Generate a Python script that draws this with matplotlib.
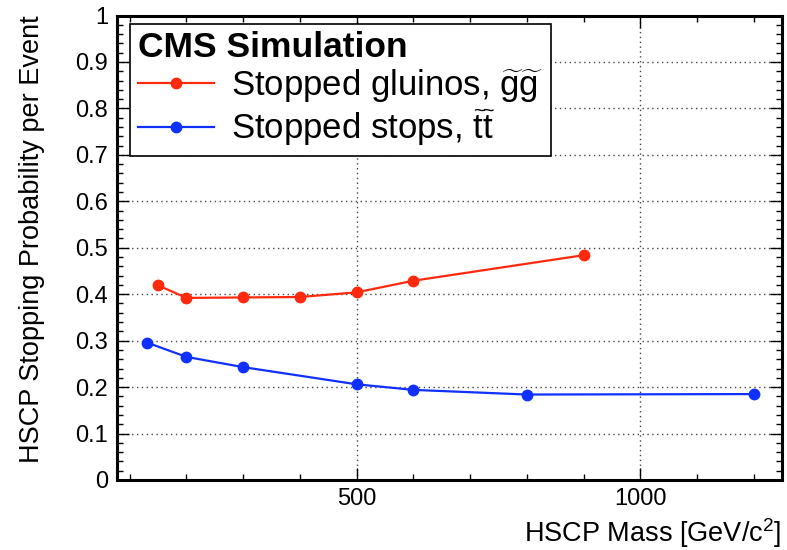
import numpy as np
import matplotlib
matplotlib.use("Agg")
import matplotlib.pyplot as plt
from matplotlib.ticker import MultipleLocator

plt.rcParams['font.family'] = ['Liberation Sans', 'DejaVu Sans']
plt.rcParams['mathtext.fontset'] = 'custom'
plt.rcParams['mathtext.rm'] = 'Liberation Sans'
plt.rcParams['mathtext.it'] = 'Liberation Sans'

# HSCP mass in GeV/c^2
gluino_mass = [150, 200, 300, 400, 500, 600, 900]
gluino_prob = [0.419, 0.392, 0.393, 0.394, 0.404, 0.429, 0.484]

stop_mass = [130, 200, 300, 500, 600, 800, 1200]
stop_prob = [0.296, 0.265, 0.243, 0.206, 0.194, 0.184, 0.185]

fig, ax = plt.subplots(figsize=(7.87, 5.5), dpi=100)
fig.subplots_adjust(left=116.7 / 787, right=781.7 / 787,
                    top=1 - 15.5 / 550, bottom=1 - 480 / 550)

ax.plot(gluino_mass, gluino_prob, color='#ff2a0e', marker='o', markersize=7.5,
        linewidth=1.6, label=r'Stopped gluinos, $\widetilde{\mathrm{g}}\widetilde{\mathrm{g}}$')
ax.plot(stop_mass, stop_prob, color='#1030ff', marker='o', markersize=7.5,
        linewidth=1.6, label=r'Stopped stops, $\widetilde{\mathrm{t}}\widetilde{\mathrm{t}}$')

ax.set_xlim(77, 1249)
ax.set_ylim(0, 1)
ax.xaxis.set_major_locator(MultipleLocator(500))
ax.xaxis.set_minor_locator(MultipleLocator(100))
ax.yaxis.set_major_locator(MultipleLocator(0.1))
ax.yaxis.set_minor_locator(MultipleLocator(0.02))
ax.yaxis.set_major_formatter(plt.FuncFormatter(lambda v, p: '%g' % round(v, 1)))

ax.tick_params(which='both', direction='in', top=True, right=True,
               labelsize=17, width=1)
ax.tick_params(which='major', length=8.5, pad=6)
ax.tick_params(which='minor', length=4.3)
for s in ax.spines.values():
    s.set_linewidth(2.2)

ax.grid(True, which='major', linestyle=(0, (1, 2.5)), color='#444444', linewidth=1)

ax.set_xlabel(r'HSCP Mass [GeV/c$^2$]', fontsize=19.5, loc='right', labelpad=4)
ax.set_ylabel('HSCP Stopping Probability per Event', fontsize=19.5, loc='top', labelpad=22)

leg = ax.legend(loc='upper left', bbox_to_anchor=(0.02, 0.982), borderaxespad=0,
                fontsize=25, title='CMS Simulation', alignment='left',
                title_fontproperties={'weight': 'bold', 'size': 25.5},
                fancybox=False, edgecolor='black', framealpha=1,
                handlelength=2.2, handletextpad=0.5, labelspacing=0.08,
                borderpad=0.22)
leg.get_frame().set_linewidth(1.2)

fig.savefig('out.png', dpi=100)
